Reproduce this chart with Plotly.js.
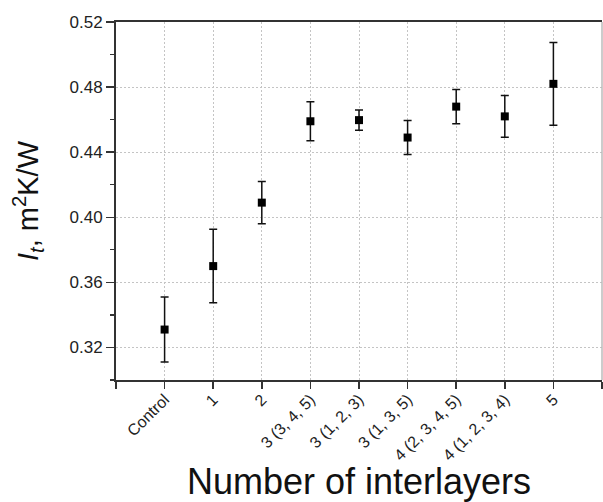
<!DOCTYPE html>
<html>
<head>
<meta charset="utf-8">
<script src="https://cdn.plot.ly/plotly-3.0.1.min.js"></script>
<style>html,body{margin:0;padding:0;background:#fff;}#chart{width:603px;height:502px;}</style>
</head>
<body>
<div id="chart"></div>
<script>
const categories = ["Control", "1", "2", "3 (3, 4, 5)", "3 (1, 2, 3)", "3 (1, 3, 5)", "4 (2, 3, 4, 5)", "4 (1, 2, 3, 4)", "5"];
const positions = [0, 1, 2, 3, 4, 5, 6, 7, 8];
const itValues = [0.331, 0.370, 0.409, 0.459, 0.4597, 0.449, 0.468, 0.462, 0.482];
const itErrors = [0.020, 0.0226, 0.013, 0.012, 0.0062, 0.0105, 0.0105, 0.0128, 0.0254];
const yTickVals = [0.32, 0.36, 0.40, 0.44, 0.48, 0.52];
const yTickText = ["0.32", "0.36", "0.40", "0.44", "0.48", "0.52"];

const trace = {
  x: positions,
  y: itValues,
  type: "scatter",
  mode: "markers",
  marker: {symbol: "square", size: 8, color: "#000"},
  error_y: {type: "data", array: itErrors, visible: true, color: "#111", thickness: 1.5, width: 4},
  showlegend: false,
  hoverinfo: "none"
};

const dotted = "1.5px,2.5px";

const layout = {
  width: 603, height: 502,
  margin: {l: 116, r: 1, t: 22, b: 122},
  paper_bgcolor: "#fff", plot_bgcolor: "#fff",
  font: {family: "Liberation Sans, Arial, sans-serif", color: "#222", size: 17},
  xaxis: {
    range: [-1, 9],
    tickmode: "array", tickvals: positions, ticktext: categories,
    tickangle: -45,
    tickfont: {size: 16, color: "#222"},
    ticklabelstandoff: -5,
    ticks: "outside", ticklen: 7, tickwidth: 1.5, tickcolor: "#333",
    minor: {tickvals: [-1, 9], ticks: "outside", ticklen: 7, tickwidth: 1.5, tickcolor: "#333", showgrid: false},
    showline: true, linecolor: "#333", linewidth: 2, mirror: true,
    showgrid: true, gridcolor: "#c4c4c4", griddash: dotted, gridwidth: 1,
    zeroline: false,
    title: {text: "Number of interlayers", font: {size: 36, color: "#111"}, standoff: 10}
  },
  yaxis: {
    range: [0.30, 0.52],
    tickmode: "array", tickvals: yTickVals, ticktext: yTickText,
    tickfont: {size: 17, color: "#222"},
    ticks: "outside", ticklen: 8, tickwidth: 1.5, tickcolor: "#333",
    minor: {tickvals: [0.30, 0.34, 0.38, 0.42, 0.46, 0.50], ticks: "outside", ticklen: 4, tickwidth: 1.2, tickcolor: "#333", showgrid: false},
    showline: true, linecolor: "#333", linewidth: 2, mirror: false,
    showgrid: true, gridcolor: "#c4c4c4", griddash: dotted, gridwidth: 1,
    zeroline: false,
    title: {text: "<i>I</i><sub><i>t</i></sub>, m<sup>2</sup>K/W", font: {size: 29, color: "#111"}, standoff: 22}
  },
  shapes: [
    {type: "line", xref: "paper", yref: "paper", x0: 1, x1: 1, y0: 0, y1: 1, line: {color: "#bbb", width: 1.5}}
  ]
};

Plotly.newPlot("chart", [trace], layout, {displayModeBar: false, staticPlot: true});
</script>
</body>
</html>
